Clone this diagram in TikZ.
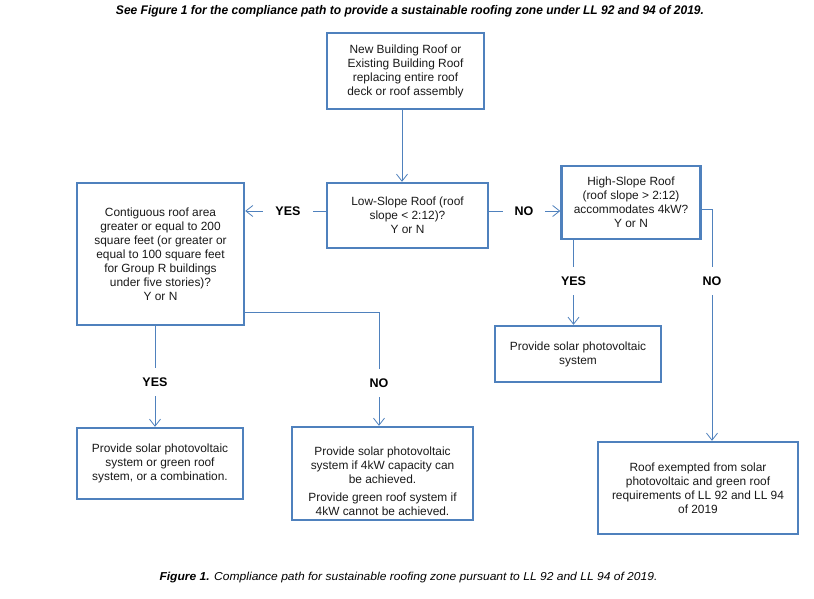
\documentclass[tikz,border=0pt]{standalone}
\usepackage{fontspec}
\setmainfont{Liberation Sans}
\usetikzlibrary{arrows.meta}
\definecolor{bl}{HTML}{4F81BD}
\definecolor{tx}{HTML}{1A1A1A}
\begin{document}
\begin{tikzpicture}[x=1pt,y=-1pt,
  box/.style={draw=bl, line width=2.4pt, align=center, inner sep=0pt,
    text=tx, font=\fontsize{11.9}{14}\selectfont},
  conn/.style={draw=bl, line width=1pt,
    -{Straight Barb[length=7pt,width=11pt,line width=0.8pt]}},
  lbl/.style={fill=white, text=black, font=\bfseries\fontsize{12.5}{14}\selectfont,
    inner xsep=12pt, inner ysep=10pt}]
\useasboundingbox[fill=white] (0,0) rectangle (814,599);

% title
\node (title) at (410,11) {\resizebox{588pt}{\height}{\bfseries\itshape\fontsize{12.5}{14}\selectfont See Figure 1 for the compliance path to provide a sustainable roofing zone under LL 92 and 94 of 2019.}};

% boxes
\node[box, minimum width=157pt, minimum height=76pt] (top) at (405.5,71)
  {New Building Roof or\\Existing Building Roof\\replacing entire roof\\deck or roof assembly};
\node[box, minimum width=161pt, minimum height=65pt] (low) at (407.5,215.5)
  {Low-Slope Roof (roof\\slope < 2:12)?\\Y or N};
\node[box, minimum width=167pt, minimum height=142pt] (left) at (160.5,254)
  {Contiguous roof area\\greater or equal to 200\\square feet (or greater or\\equal to 100 square feet\\for Group R buildings\\under five stories)?\\Y or N};
\node[box, minimum width=139pt, minimum height=73pt] (high) at (631,202.5)
  {High-Slope Roof\\(roof slope > 2:12)\\accommodates 4kW?\\Y or N};
\node[box, minimum width=166pt, minimum height=56pt] (solar) at (578,354)
  {Provide solar photovoltaic\\system};
\node[box, minimum width=166pt, minimum height=71pt] (bl) at (160,463.5)
  {Provide solar photovoltaic\\system or green roof\\system, or a combination.};
\node[box, minimum width=181pt, minimum height=93pt] (bm) at (382.5,473.5) {};
\node[align=center, text=tx, font=\fontsize{11.9}{14}\selectfont] (bmt) at (382.5,481)
  {Provide solar photovoltaic\\system if 4kW capacity can\\be achieved.\\[4pt]Provide green roof system if\\4kW cannot be achieved.};
\node[box, minimum width=200pt, minimum height=92pt] (br) at (698,488)
  {Roof exempted from solar\\photovoltaic and green roof\\requirements of LL 92 and LL 94\\of 2019};

% connectors
\draw[conn] ([xshift=-3.5pt]top.south) -- ([xshift=-3.5pt]top.south |- low.north);
\draw[conn] ([yshift=4.5pt]low.west) coordinate (a) -- (a -| left.east);
\node[lbl] (yes1) at (288,211) {YES};
\draw[conn] ([yshift=4.5pt]low.east) coordinate (b) -- (b -| high.west);
\node[lbl] (no1) at (524,211) {NO};
\draw[conn] ([xshift=-4.5pt]solar.north |- high.south) -- ([xshift=-4.5pt]solar.north);
\node[lbl] (yes2) at (573.5,281) {YES};
\draw[conn] ([yshift=-6.5pt]high.east) -| ([xshift=14pt]br.north);
\node[lbl] (no2) at (712,281) {NO};
\draw[conn] ([xshift=-5.5pt]left.south) -- ([xshift=-5.5pt]left.south |- bl.north);
\node[lbl] (yes3) at (155,382) {YES};
\draw[conn] ([yshift=-58pt]left.east) -| ([xshift=-3.5pt]bm.north);
\node[lbl] (no3) at (379,383) {NO};

% caption
\node (cap) at (408.5,578) {\resizebox{498pt}{\height}{\itshape\fontsize{11.5}{13}\selectfont\textbf{Figure 1.} Compliance path for sustainable roofing zone pursuant to LL 92 and LL 94 of 2019.}};
\end{tikzpicture}
\end{document}
